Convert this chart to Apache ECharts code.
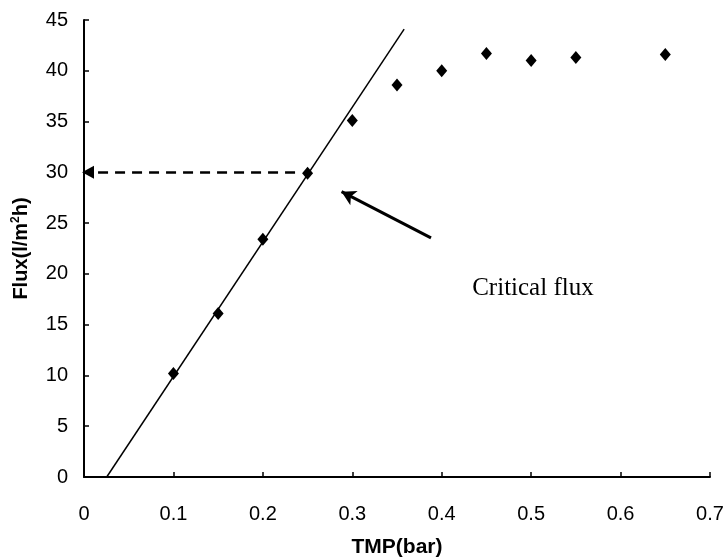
<!DOCTYPE html>
<html>
<head>
<meta charset="utf-8">
<script src="https://cdn.jsdelivr.net/npm/echarts@6/dist/echarts.min.js"></script>
<style>html,body{margin:0;padding:0;background:#fff;}#c{width:725px;height:559px;}</style>
</head>
<body>
<div id="c"></div>
<script>
// Measured data
const tmp = [0.1, 0.15, 0.2, 0.25, 0.3, 0.35, 0.4, 0.45, 0.5, 0.55, 0.65];
const flux = [10.2, 16.1, 23.4, 29.9, 35.1, 38.6, 40.0, 41.7, 41.0, 41.3, 41.6];
// Fitted straight line (start / end)
const fitX = [0.0254, 0.358];
const fitY = [0, 44.1];
// Dashed arrow to the y axis (from, to)
const dashArrowX = [0.236, 0.0045];
const dashArrowY = [30, 30];
// Solid arrow pointing at the critical point (from, to)
const solidArrowX = [0.388, 0.288];
const solidArrowY = [23.55, 28.1];
// Annotation
const noteText = 'Critical flux';
const notePos = [0.502, 18.6];
// Axis ticks
const xMin = 0, xMax = 0.7, xStep = 0.1;
const yMin = 0, yMax = 45, yStep = 5;

const sans = "'Liberation Sans', Arial, sans-serif";
const serif = "'Liberation Serif', 'Times New Roman', serif";

const chart = echarts.init(document.getElementById('c'), null, {renderer: 'canvas'});
chart.setOption({
  animation: false,
  backgroundColor: '#ffffff',
  grid: {left: 84, right: 15, top: 20, bottom: 82, containLabel: false, outerBoundsMode: 'none'},
  xAxis: {
    type: 'value', min: xMin, max: xMax, interval: xStep,
    name: 'TMP(bar)', nameLocation: 'middle', nameGap: 60,
    nameTextStyle: {fontFamily: sans, fontSize: 21, fontWeight: 'bold', color: '#000'},
    axisLine: {show: true, onZero: false, lineStyle: {color: '#000', width: 2}},
    axisTick: {show: true, inside: true, length: 5, lineStyle: {color: '#000', width: 1.5}},
    axisLabel: {fontFamily: sans, fontSize: 20, color: '#000', margin: 27},
    splitLine: {show: false}
  },
  yAxis: {
    type: 'value', min: yMin, max: yMax, interval: yStep,
    name: 'Flux(l/m{sup|2}h)', nameLocation: 'middle', nameGap: 52, nameRotate: 90,
    nameTextStyle: {fontFamily: sans, fontSize: 20, fontWeight: 'bold', color: '#000',
      rich: {sup: {fontFamily: sans, fontSize: 12, fontWeight: 'bold', color: '#000', verticalAlign: 'top', lineHeight: 22}}},
    axisLine: {show: true, onZero: false, lineStyle: {color: '#000', width: 2}},
    axisTick: {show: true, inside: true, length: 5, lineStyle: {color: '#000', width: 1.5}},
    axisLabel: {fontFamily: sans, fontSize: 20, color: '#000', margin: 16},
    splitLine: {show: false}
  },
  series: [
    {
      type: 'line',
      data: fitX.map((x, i) => [x, fitY[i]]),
      showSymbol: false, symbol: 'none', silent: true,
      lineStyle: {color: '#000', width: 1.5}
    },
    {
      type: 'scatter',
      data: tmp.map((x, i) => [x, flux[i]]),
      symbol: 'diamond', symbolSize: [11, 13],
      itemStyle: {color: '#000', opacity: 1},
      silent: true,
      markLine: {
        silent: true, animation: false,
        label: {show: false},
        symbol: ['none', 'arrow'],
        data: [
          [
            {coord: [dashArrowX[0], dashArrowY[0]], symbol: 'none', lineStyle: {type: [10, 7], width: 2.5, color: '#000'}},
            {coord: [dashArrowX[1], dashArrowY[1]], symbol: 'triangle', symbolSize: [13, 12], symbolRotate: 90}
          ],
          [
            {coord: [solidArrowX[0], solidArrowY[0]], symbol: 'none', lineStyle: {type: 'solid', width: 3, color: '#000'}},
            {coord: [solidArrowX[1], solidArrowY[1]], symbol: 'arrow', symbolSize: [12, 14]}
          ]
        ]
      },
      markPoint: {
        silent: true, animation: false,
        data: [{
          coord: notePos, symbol: 'circle', symbolSize: 0,
          label: {show: true, position: 'inside', formatter: noteText, fontFamily: serif, fontSize: 25, color: '#000'}
        }]
      }
    }
  ]
});
</script>
</body>
</html>
